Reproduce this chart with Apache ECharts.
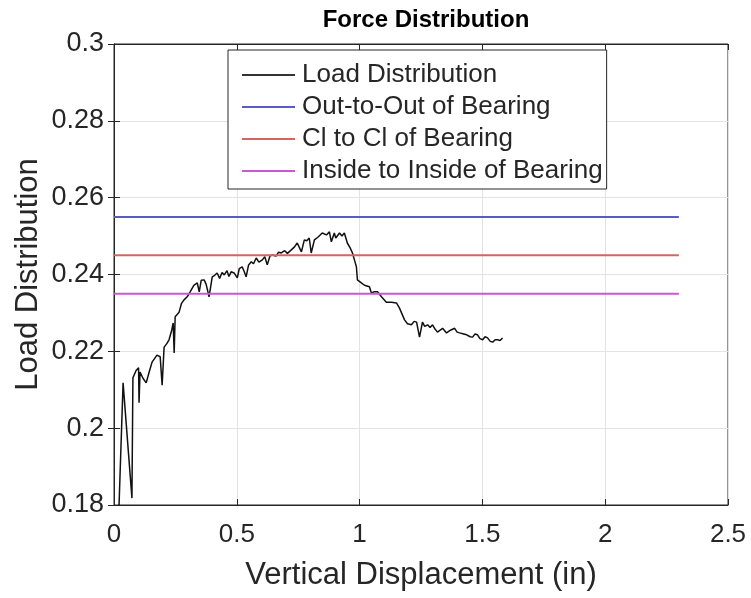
<!DOCTYPE html>
<html>
<head>
<meta charset="utf-8">
<script src="https://cdn.jsdelivr.net/npm/echarts@6/dist/echarts.min.js"></script>
<style>html,body{margin:0;padding:0;background:#fff}#c{width:751px;height:598px}</style>
</head>
<body>
<div id="c"></div>
<script>
// ---- data ----
const loadX = [0.018,0.037,0.073,0.077,0.09,0.1,0.102,0.106,0.118,0.131,0.145,0.155,0.175,0.188,0.196,0.204,0.215,0.224,0.235,0.241,0.245,0.249,0.265,0.275,0.285,0.298,0.31,0.314,0.325,0.339,0.347,0.355,0.367,0.375,0.387,0.4,0.41,0.42,0.43,0.44,0.449,0.46,0.468,0.477,0.489,0.502,0.51,0.522,0.53,0.538,0.548,0.559,0.568,0.579,0.59,0.604,0.614,0.624,0.635,0.644,0.66,0.67,0.681,0.695,0.706,0.722,0.735,0.746,0.755,0.763,0.775,0.785,0.795,0.803,0.816,0.83,0.848,0.865,0.877,0.885,0.897,0.903,0.909,0.918,0.928,0.938,0.95,0.961,0.971,0.979,0.987,0.991,1.007,1.02,1.028,1.04,1.048,1.06,1.073,1.089,1.109,1.13,1.15,1.162,1.183,1.195,1.203,1.211,1.222,1.232,1.244,1.256,1.265,1.277,1.287,1.297,1.307,1.317,1.338,1.354,1.37,1.387,1.397,1.407,1.42,1.436,1.45,1.46,1.47,1.48,1.49,1.501,1.511,1.521,1.532,1.542,1.552,1.562,1.572,1.582];
const loadY = [0.175,0.2118,0.1818,0.2131,0.215,0.2157,0.2066,0.2146,0.213,0.2118,0.215,0.2172,0.219,0.2186,0.2112,0.2211,0.222,0.223,0.2255,0.2274,0.2196,0.229,0.2302,0.2325,0.2334,0.2342,0.2355,0.236,0.2372,0.2378,0.2355,0.2385,0.2386,0.2375,0.2342,0.2394,0.2398,0.2404,0.239,0.2405,0.2399,0.241,0.2395,0.2407,0.2404,0.2391,0.2415,0.242,0.2408,0.2394,0.2425,0.2433,0.2428,0.2443,0.2432,0.2438,0.2446,0.2425,0.2448,0.2451,0.2448,0.2458,0.2456,0.2462,0.2455,0.2464,0.2472,0.2482,0.247,0.2459,0.249,0.2488,0.2495,0.2456,0.249,0.2497,0.2508,0.2503,0.2511,0.2485,0.2508,0.2495,0.249,0.2508,0.25,0.2508,0.2482,0.247,0.2456,0.2438,0.242,0.2386,0.2378,0.2372,0.2373,0.2368,0.2352,0.2355,0.2355,0.2342,0.2328,0.2328,0.2326,0.2313,0.2282,0.2272,0.2274,0.2269,0.2278,0.2276,0.2237,0.2276,0.2265,0.2269,0.2262,0.2269,0.2258,0.225,0.226,0.2248,0.2255,0.226,0.225,0.2248,0.2246,0.2243,0.2238,0.2237,0.2245,0.2243,0.2233,0.223,0.2238,0.2235,0.2226,0.2224,0.223,0.223,0.2228,0.2235];
const refX = [0, 2.3];
const outToOut = 0.255;
const clToCl = 0.245;
const insideToInside = 0.235;
const seriesNames = ['Load Distribution','Out-to-Out of Bearing','Cl to Cl of Bearing','Inside to Inside of Bearing'];
const xTicks = [0, 0.5, 1, 1.5, 2, 2.5];
const yTicks = [0.18, 0.2, 0.22, 0.24, 0.26, 0.28, 0.3];

// ---- chart ----
const FONT = 'Liberation Sans, Arial, sans-serif';
const chart = echarts.init(document.getElementById('c'), null, {renderer:'canvas'});
const hline = v => refX.map(x => [x, v]);
const axisCommon = {
  axisLine:{show:true, lineStyle:{color:'#262626', width:1}},
  axisTick:{show:true, inside:true, length:6, lineStyle:{color:'#262626'}},
};
chart.setOption({
  animation:false,
  backgroundColor:'#fff',
  title:{text:'Force Distribution', left:421, textAlign:'center', top:3,
    textStyle:{fontFamily:FONT, fontSize:24, fontWeight:'bold', color:'#000'}},
  grid:{left:114, right:23, top:44, bottom:93, show:true, borderColor:'#262626', borderWidth:1},
  legend:{
    orient:'vertical', left:228, top:50,
    data:seriesNames,
    icon:'rect',
    itemWidth:53, itemHeight:2, itemGap:6,
    padding:[12, 4, 5, 14],
    borderColor:'#262626', borderWidth:1, backgroundColor:'#fff',
    textStyle:{fontFamily:FONT, fontSize:26, color:'#262626', padding:[0,0,0,2]}
  },
  xAxis:[{
    type:'value', min:xTicks[0], max:xTicks[xTicks.length-1], interval:0.5,
    name:'Vertical Displacement (in)', nameLocation:'middle', nameGap:55,
    nameTextStyle:{fontFamily:FONT, fontSize:31, color:'#262626'},
    ...axisCommon,
    axisLabel:{fontFamily:FONT, fontSize:26, color:'#262626', margin:17},
    splitLine:{show:true, lineStyle:{color:'#e3e3e3', width:1}}
  },{
    type:'value', position:'top', min:0, max:2.5, interval:0.5,
    ...axisCommon, axisLabel:{show:false}, splitLine:{show:false}
  }],
  yAxis:[{
    type:'value', min:yTicks[0], max:yTicks[yTicks.length-1], interval:0.02,
    name:'Load Distribution', nameLocation:'middle', nameGap:70, nameMoveOverlap:false,
    nameTextStyle:{fontFamily:FONT, fontSize:31, color:'#262626'},
    ...axisCommon,
    axisLabel:{fontFamily:FONT, fontSize:27, color:'#262626', margin:10,
      formatter: v => String(+v.toFixed(2))},
    splitLine:{show:true, lineStyle:{color:'#e3e3e3', width:1}}
  },{
    type:'value', position:'right', min:0.18, max:0.3, interval:0.02,
    ...axisCommon, axisLabel:{show:false}, splitLine:{show:false}
  }],
  series:[
    {name:seriesNames[0], type:'line', symbol:'none', data:loadX.map((x,i)=>[x, loadY[i]]),
      lineStyle:{color:'#111', width:1.5}, itemStyle:{color:'#333'}, clip:true},
    {name:seriesNames[1], type:'line', symbol:'none', data:hline(outToOut),
      lineStyle:{color:'#5b5bc4', width:2}, itemStyle:{color:'#5b5bc4'}},
    {name:seriesNames[2], type:'line', symbol:'none', data:hline(clToCl),
      lineStyle:{color:'#d0675f', width:2}, itemStyle:{color:'#d0675f'}},
    {name:seriesNames[3], type:'line', symbol:'none', data:hline(insideToInside),
      lineStyle:{color:'#c65bce', width:2}, itemStyle:{color:'#c65bce'}}
  ]
});
</script>
</body>
</html>
